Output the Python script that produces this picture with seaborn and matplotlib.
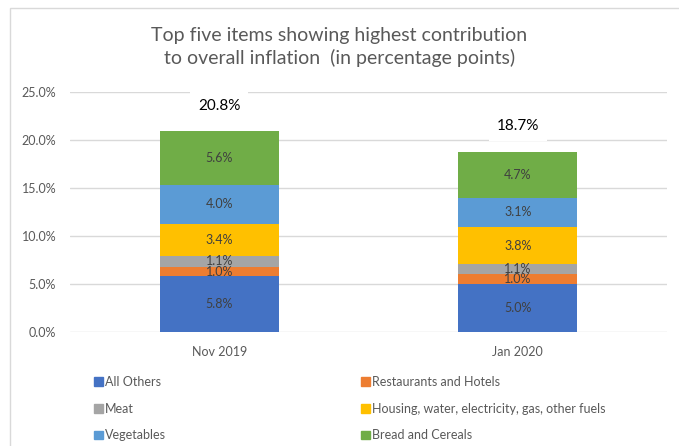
import matplotlib
matplotlib.use("Agg")
import matplotlib.pyplot as plt
from matplotlib.patches import Rectangle, Patch
from matplotlib.ticker import FuncFormatter
import seaborn as sns
import pandas as pd

# Contribution to overall inflation, percentage points
periods = ["Nov 2019", "Jan 2020"]
items = ["All Others", "Restaurants and Hotels", "Meat",
         "Housing, water, electricity, gas, other fuels",
         "Vegetables", "Bread and Cereals"]
all_others = [5.8, 5.0]
restaurants = [1.0, 1.0]
meat = [1.1, 1.1]
housing = [3.4, 3.8]
vegetables = [4.0, 3.1]
bread = [5.6, 4.7]
totals = [20.8, 18.7]
yticks = [0, 5, 10, 15, 20, 25]

colors = ["#4472C4", "#ED7D31", "#A5A5A5", "#FFC000", "#5B9BD5", "#70AD47"]
series = [all_others, restaurants, meat, housing, vegetables, bread]

sns.set_theme(style="white")
plt.rcParams["font.family"] = ["Lato", "DejaVu Sans"]

fig = plt.figure(figsize=(6.79, 4.46), dpi=100)
ax = fig.add_axes([70 / 679, 1 - 332 / 446, 597 / 679, 240 / 446])

# chart frame
fig.patches.append(Rectangle((10 / 679, -0.05), 1.2, 1 - 8 / 446 + 0.05,
                             transform=fig.transFigure, fill=False,
                             edgecolor="#D9D9D9", linewidth=1.0, zorder=0))

bottom = [0.0, 0.0]
for name, vals, col in zip(items, series, colors):
    df = pd.DataFrame({"period": periods, "value": vals})
    sns.barplot(data=df, x="period", y="value", color=col, width=0.4,
                bottom=bottom, ax=ax, saturation=1, linewidth=0, zorder=3)
    for i, v in enumerate(vals):
        ax.text(i, bottom[i] + v / 2, f"{v:.1f}%", ha="center", va="center",
                fontsize=9, color="#404040", zorder=4)
    bottom = [b + v for b, v in zip(bottom, vals)]

for i, t in enumerate(totals):
    ax.annotate(f"{t:.1f}%", xy=(i, t), xytext=(0, 19), textcoords="offset points",
                ha="center", va="center", fontsize=11, color="#000000", zorder=5,
                bbox=dict(boxstyle="square,pad=0.5", fc="white", ec="none"))

ax.set_ylim(0, 25)
ax.set_xlim(-0.5, 1.5)
ax.set_yticks(yticks)
ax.yaxis.set_major_formatter(FuncFormatter(lambda v, p: f"{v:.1f}%"))
ax.grid(axis="y", color="#D9D9D9", linewidth=1.0, zorder=0)
ax.set_axisbelow(True)
for s in ax.spines.values():
    s.set_visible(False)
ax.tick_params(axis="both", length=0, labelsize=9, colors="#595959")
ax.tick_params(axis="y", pad=10)
ax.tick_params(axis="x", pad=10)
ax.set_xlabel("")
ax.set_ylabel("")

fig.text(0.5, 1 - 47 / 446, "Top five items showing highest contribution\nto overall inflation  (in percentage points)",
         ha="center", va="center", fontsize=14, color="#595959", linespacing=1.3)

# legend in row-major order across two columns
handles = [Patch(color=c, label=l) for l, c in zip(items, colors)]
order = [0, 2, 4, 1, 3, 5]
fig.legend([handles[k] for k in order], [items[k] for k in order],
           loc="upper left", bbox_to_anchor=(89 / 679, 1 - 371 / 446), ncol=2,
           frameon=False, fontsize=9, labelcolor="#595959",
           handlelength=0.7, handleheight=0.7, handletextpad=0.2,
           columnspacing=15.6, labelspacing=1.17, borderaxespad=0)

fig.savefig("out.png", dpi=100, facecolor="white")
